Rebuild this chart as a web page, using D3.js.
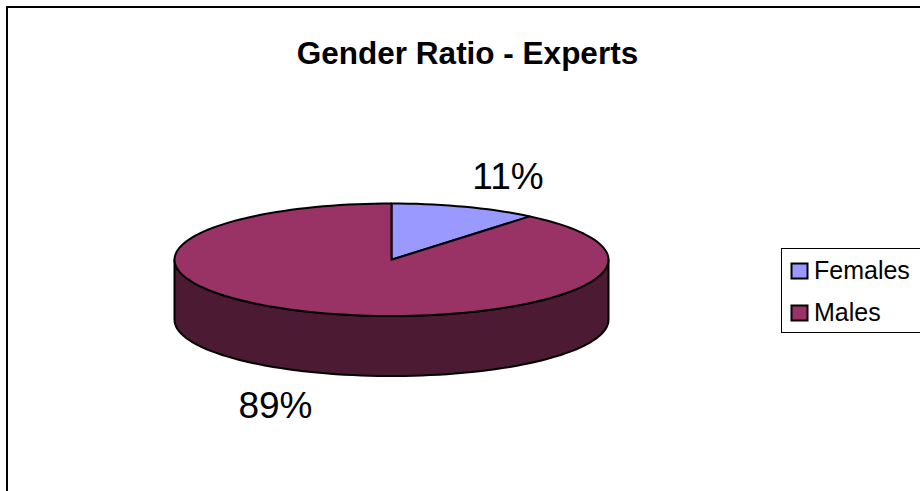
<!DOCTYPE html>
<html>
<head>
<meta charset="utf-8">
<script src="https://cdn.jsdelivr.net/npm/d3@7/dist/d3.min.js"></script>
<style>
html, body { margin: 0; padding: 0; background: #fff; }
svg { display: block; }
text { font-family: "Liberation Sans", Arial, sans-serif; fill: #000; }
</style>
</head>
<body>
<svg width="920" height="491"></svg>
<script>
var chartTitle = "Gender Ratio - Experts";
var categories = ["Females", "Males"];
var shares = [11, 89];
var labelText = ["11%", "89%"];
var topColors = ["#9999ff", "#993366"];
var sideColor = "#4d1a33";

var svg = d3.select("svg");

// frame runs off the right and bottom of the picture
svg.append("rect")
    .attr("x", 7)
    .attr("y", 7)
    .attr("width", 960)
    .attr("height", 540)
    .attr("fill", "#fff")
    .attr("stroke", "#000")
    .attr("stroke-width", 2);

svg.append("text")
    .attr("x", 467.5)
    .attr("y", 64)
    .attr("text-anchor", "middle")
    .attr("font-size", "31.5px")
    .attr("font-weight", "bold")
    .text(chartTitle);

// unit circle -> flattened ellipse
var xScale = d3.scaleLinear().domain([-1, 1]).range([174.5, 608.5]);
var yScale = d3.scaleLinear().domain([-1, 1]).range([203.5, 316]);
var depth = 60;

var pie = d3.pie().sort(null).value(function (d) { return d; });
var slices = pie(shares);

function rimPoint(a) { // a: clockwise from 12 o'clock
    return [xScale(Math.sin(a)), yScale(-Math.cos(a))];
}

function arcPoints(a0, a1) {
    var n = Math.max(2, Math.ceil(Math.abs(a1 - a0) / 0.04));
    return d3.range(n + 1).map(function (i) {
        return rimPoint(a0 + (a1 - a0) * i / n);
    });
}

var line = d3.line();

// side wall, front half only
var front = arcPoints(Math.PI / 2, Math.PI * 1.5);
var lower = front.slice().reverse().map(function (p) { return [p[0], p[1] + depth]; });
svg.append("path")
    .attr("d", line(front.concat(lower)) + "Z")
    .attr("fill", sideColor)
    .attr("stroke", "#000")
    .attr("stroke-width", 2)
    .attr("stroke-linejoin", "round");

// top faces
svg.selectAll(".slice")
    .data(slices)
    .enter().append("path")
    .attr("class", "slice")
    .attr("d", function (d) {
        return line([rimPoint(0).map(function (v, i) { return i ? yScale(0) : xScale(0); })]
            .concat(arcPoints(d.startAngle, d.endAngle))) + "Z";
    })
    .attr("fill", function (d, i) { return topColors[i]; })
    .attr("stroke", "#000")
    .attr("stroke-width", 2)
    .attr("stroke-linejoin", "round");

// data labels
svg.append("text")
    .attr("x", 508)
    .attr("y", 189)
    .attr("text-anchor", "middle")
    .attr("font-size", "37px")
    .text(labelText[0]);

svg.append("text")
    .attr("x", 275.5)
    .attr("y", 418)
    .attr("text-anchor", "middle")
    .attr("font-size", "37px")
    .text(labelText[1]);

// legend
var legend = svg.append("g");
legend.append("rect")
    .attr("x", 781.5)
    .attr("y", 248.5)
    .attr("width", 200)
    .attr("height", 84)
    .attr("fill", "#fff")
    .attr("stroke", "#000");

var legendY = d3.scalePoint().domain(categories).range([271, 313]);

legend.selectAll(".swatch")
    .data(categories)
    .enter().append("rect")
    .attr("class", "swatch")
    .attr("x", 791.5)
    .attr("y", function (d) { return legendY(d) - 7.5; })
    .attr("width", 16)
    .attr("height", 15)
    .attr("fill", function (d, i) { return topColors[i]; })
    .attr("stroke", "#000")
    .attr("stroke-width", 2);

legend.selectAll(".entry")
    .data(categories)
    .enter().append("text")
    .attr("class", "entry")
    .attr("x", 814)
    .attr("y", function (d) { return legendY(d) + 8; })
    .attr("font-size", "25px")
    .text(function (d) { return d; });
</script>
</body>
</html>
